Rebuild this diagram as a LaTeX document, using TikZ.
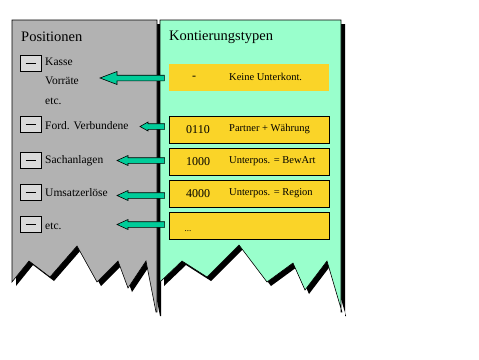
\documentclass[tikz,border=0pt]{standalone}
\usepackage{fontspec}
\setmainfont{Liberation Serif}
\usepackage{tikz}
\usetikzlibrary{calc,positioning}
\definecolor{panelgrey}{RGB}{178,178,178}
\definecolor{panelmint}{RGB}{153,255,204}
\definecolor{boxyellow}{RGB}{250,212,40}
\definecolor{arrowteal}{RGB}{0,204,153}
\definecolor{keygrey}{RGB}{218,218,218}
\tikzset{
  panel/.style={draw=black, line width=0.6pt, line join=miter},
  shade/.style={fill=black, shift={(4,4)}},
  title/.style={font=\fontsize{14.5}{16}\selectfont, anchor=west, inner sep=0pt},
  item/.style={font=\fontsize{11.5}{13}\selectfont, anchor=west, inner sep=0pt},
  keybox/.style={draw=black, line width=0.8pt, fill=keygrey, minimum width=21pt, minimum height=16pt, inner sep=0pt},
  typbox/.style={fill=boxyellow, minimum width=160pt, minimum height=27pt, inner sep=0pt},
  typboxb/.style={typbox, draw=black, line width=0.8pt},
  code/.style={font=\fontsize{12}{13}\selectfont, inner sep=0pt},
  lbl/.style={font=\fontsize{10.5}{12}\selectfont, anchor=west, inner sep=0pt},
  blockarr/.style={fill=arrowteal, draw=black, line width=0.6pt, line join=miter},
}
% torn sheet outlines
\newcommand{\greysheet}{(12,282) -- (12,20) -- (157,20) -- (157,312) -- (156,312)
    -- (146,261) -- (128,288) -- (118,261) -- (97,282) -- (77,246) -- (50,277) -- (29,261) -- cycle}
\newcommand{\mintsheet}{(160,282) -- (160,20) -- (341,20) -- (341,312) -- (342,312)
    -- (327,261) -- (305,290) -- (293,263) -- (267,282) -- (239,245) -- (207,277) -- (182,261) -- cycle}
% block arrow pointing left: tail, tip, head length, head half width
\newcommand{\blockarrow}[4]{%
  \filldraw[blockarr] ($(#1)+(0,-2.8)$) -- ($(#2)+(#3,-2.8)$) -- ($(#2)+(#3,-#4)$) -- (#2)
    -- ($(#2)+(#3,#4)$) -- ($(#2)+(#3,2.8)$) -- ($(#1)+(0,2.8)$) -- cycle;}
\newcommand{\keyitem}[2]{%
  \node[keybox] (#1) at (30.5,#2) {};
  \draw[line width=0.8pt] ($(#1.center)+(-5,0)$) -- ($(#1.center)+(5,0)$);}

\begin{document}
\begin{tikzpicture}[x=1pt,y=-1pt]
  \useasboundingbox (0,0) rectangle (479,359);
  % sheets with shadow
  \fill[shade] \greysheet;
  \filldraw[panel, fill=panelgrey] \greysheet;
  \fill[shade] \mintsheet;
  \filldraw[panel, fill=panelmint] \mintsheet;
  % titles
  \node[title] (posTitle) at (21,37) {Positionen};
  \node[title] (ktTitle) at (169,37) {Kontierungstypen};
  % positions
  \keyitem{kKasse}{63}
  \keyitem{kFord}{124}
  \keyitem{kSach}{160}
  \keyitem{kUms}{192}
  \keyitem{kEtc}{224}
  \node[item] (kasse) at (45,62) {Kasse};
  \node[item] (vorraete) at (45,81) {Vorräte};
  \node[item] (etcA) at (45,101) {etc.};
  \node[item] (ford) at (45,126) {Ford. Verbundene};
  \node[item] (sach) at (45,161) {Sachanlagen};
  \node[item] (ums) at (45,193) {Umsatzerlöse};
  \node[item] (etcB) at (45,226) {etc.};
  % account types
  \node[typbox] (tNone) at (248.5,77.5) {};
  \node[typboxb] (t0110) at (249,129.5) {};
  \node[typboxb] (t1000) at (249,161.5) {};
  \node[typboxb] (t4000) at (249,193.5) {};
  \node[typboxb] (tEtc) at (249,225.5) {};
  \node[code] (cNone) at (194,78) {-};
  \node[code] (c0110) at (198,130) {0110};
  \node[code] (c1000) at (198,162) {1000};
  \node[code] (c4000) at (198,194) {4000};
  \node[code, font=\fontsize{9}{10}\selectfont] (cEtc) at (188,231) {...};
  \node[lbl] at (229,77) {Keine Unterkont.};
  \node[lbl] at (229,129) {Partner + Währung};
  \node[lbl] at (229,161) {Unterpos. = BewArt};
  \node[lbl] at (229,193) {Unterpos. = Region};
  % arrows
  \coordinate (aNone) at ($(tNone.west)+(-4,0.5)$);
  \coordinate (a0110) at ($(t0110.west)+(-4,-3)$);
  \coordinate (a1000) at ($(t1000.west)+(-4,-1)$);
  \coordinate (a4000) at ($(t4000.west)+(-4,2)$);
  \coordinate (aEtc) at ($(tEtc.west)+(-4,-1)$);
  \coordinate (pVorr) at (100,78);
  \coordinate (pFord) at (140,126.5);
  \coordinate (pSach) at (117,160.5);
  \coordinate (pUms) at (117,195.5);
  \coordinate (pEtc) at (117,224.5);
  \blockarrow{aNone}{pVorr}{17}{6.5}
  \blockarrow{a0110}{pFord}{8}{4.5}
  \blockarrow{a1000}{pSach}{11}{5}
  \blockarrow{a4000}{pUms}{11}{5}
  \blockarrow{aEtc}{pEtc}{11}{5}
\end{tikzpicture}
\end{document}
